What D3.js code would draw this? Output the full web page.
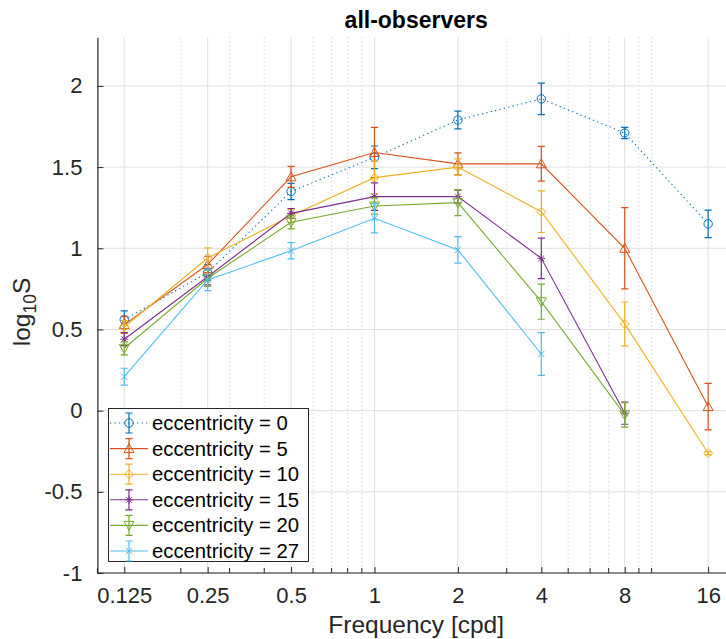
<!DOCTYPE html>
<html>
<head>
<meta charset="utf-8">
<script src="https://cdn.jsdelivr.net/npm/d3@7"></script>
<style>
  body { margin: 0; background: #fff; }
  svg { display: block; font-family: "Liberation Sans", Arial, Helvetica, sans-serif; }
</style>
</head>
<body>
<div id="chart"></div>
<script>
const WIDTH = 726;
const HEIGHT = 639;

// data
const freqs = [0.125, 0.25, 0.5, 1, 2, 4, 8, 16];
const eccentricities = [0, 5, 10, 15, 20, 27];
const ecc0  = [0.56, 0.85, 1.35, 1.56, 1.79, 1.92, 1.71, 1.15];
const ecc0Err  = [0.055, 0.05, 0.05, 0.07, 0.055, 0.097, 0.035, 0.085];
const ecc5  = [0.53, 0.90, 1.44, 1.59, 1.52, 1.52, 1.00, 0.025];
const ecc5Err  = [0.05, 0.05, 0.065, 0.155, 0.068, 0.107, 0.25, 0.143];
const ecc10 = [0.515, 0.94, 1.2, 1.435, 1.50, 1.225, 0.534, -0.262];
const ecc10Err = [0.04, 0.062, 0.04, 0.10, 0.05, 0.128, 0.135, 0.01];
const ecc15 = [0.44, 0.825, 1.215, 1.318, 1.318, 0.938, -0.016, null];
const ecc15Err = [0.04, 0.05, 0.03, 0.085, 0.04, 0.125, 0.068, null];
const ecc20 = [0.384, 0.815, 1.16, 1.26, 1.281, 0.671, -0.026, null];
const ecc20Err = [0.04, 0.05, 0.04, 0.05, 0.08, 0.108, 0.075, null];
const ecc27 = [0.209, 0.805, 0.985, 1.185, 0.99, 0.349, null, null];
const ecc27Err = [0.052, 0.066, 0.05, 0.09, 0.082, 0.132, null, null];

const xTicks = [0.125, 0.25, 0.5, 1, 2, 4, 8, 16];
const xTickLabels = ["0.125", "0.25", "0.5", "1", "2", "4", "8", "16"];
const xMinor = [0.1, 0.2, 0.3, 0.4, 0.6, 0.7, 0.8, 0.9, 3, 5, 6, 7, 9, 10];
const yTicks = [-1, -0.5, 0, 0.5, 1, 1.5, 2];
const yTickLabels = ["-1", "-0.5", "0", "0.5", "1", "1.5", "2"];

var colors = ["#0072BD", "#D95319", "#EDB120", "#7E2F8E", "#77AC30", "#4DBEEE"];
var markers = ["circle", "triangle", "diamond", "star", "triangledown", "cross"];

var series = [
  { ecc: eccentricities[0], vals: ecc0, errs: ecc0Err, dotted: true },
  { ecc: eccentricities[1], vals: ecc5, errs: ecc5Err },
  { ecc: eccentricities[2], vals: ecc10, errs: ecc10Err },
  { ecc: eccentricities[3], vals: ecc15, errs: ecc15Err },
  { ecc: eccentricities[4], vals: ecc20, errs: ecc20Err },
  { ecc: eccentricities[5], vals: ecc27, errs: ecc27Err }
];

var axLeft = 97.4, axRight = 735, axTop = 37.2, axBottom = 573;
var x = d3.scaleLog().base(2).domain([0.1, 20]).range([axLeft, axRight]);
var y = d3.scaleLinear().domain([-1, 2.3]).range([axBottom, axTop]);

var axisColor = "#262626";

var svg = d3.select("#chart").append("svg")
    .attr("width", WIDTH)
    .attr("height", HEIGHT);

// grid
var grid = svg.append("g").attr("class", "grid");
grid.selectAll(".minor")
    .data(xMinor.filter(d => d > 0.1))
    .enter().append("line")
    .attr("x1", d => x(d)).attr("x2", d => x(d))
    .attr("y1", axTop).attr("y2", axBottom)
    .attr("stroke", "#c4c4c4")
    .attr("stroke-dasharray", "1,3");
grid.selectAll(".vmajor")
    .data(xTicks)
    .enter().append("line")
    .attr("x1", d => x(d)).attr("x2", d => x(d))
    .attr("y1", axTop).attr("y2", axBottom)
    .attr("stroke", "#dfdfdf");
grid.selectAll(".hmajor")
    .data(yTicks)
    .enter().append("line")
    .attr("x1", axLeft).attr("x2", WIDTH)
    .attr("y1", d => y(d)).attr("y2", d => y(d))
    .attr("stroke", "#dfdfdf");

// axes (matlab style: ticks inside)
var xAxis = d3.axisBottom(x).tickValues(xTicks)
    .tickFormat((d, i) => xTickLabels[i])
    .tickSizeInner(-6).tickSizeOuter(0).tickPadding(14);
var yAxis = d3.axisLeft(y).tickValues(yTicks)
    .tickFormat((d, i) => yTickLabels[i])
    .tickSizeInner(-6).tickSizeOuter(0).tickPadding(15);

var gx = svg.append("g")
    .attr("transform", "translate(0," + axBottom + ")")
    .call(xAxis);
gx.append("g").selectAll("line")
    .data(xMinor)
    .enter().append("line")
    .attr("x1", d => x(d)).attr("x2", d => x(d))
    .attr("y1", 0).attr("y2", -5)
    .attr("stroke", axisColor);

var gy = svg.append("g")
    .attr("transform", "translate(" + axLeft + ",0)")
    .call(yAxis);

[gx, gy].forEach(g => {
  g.select(".domain").attr("stroke", axisColor).attr("stroke-width", 1.2);
  g.selectAll(".tick line").attr("stroke", axisColor);
  g.selectAll(".tick text")
      .attr("fill", axisColor)
      .attr("font-size", 22)
      .attr("font-family", "Liberation Sans, Arial, sans-serif");
});
gx.select(".domain").attr("d", "M" + axLeft + ",0H" + WIDTH);

// labels
svg.append("text")
    .attr("x", (axLeft + axRight) / 2)
    .attr("y", 28)
    .attr("text-anchor", "middle")
    .attr("font-weight", "bold")
    .attr("font-size", 23)
    .attr("fill", "#000")
    .text("all-observers");

svg.append("text")
    .attr("x", (axLeft + axRight) / 2)
    .attr("y", 633)
    .attr("text-anchor", "middle")
    .attr("font-size", 24.5)
    .attr("fill", axisColor)
    .text("Frequency [cpd]");

var ylab = svg.append("text")
    .attr("transform", "translate(30,312) rotate(-90)")
    .attr("text-anchor", "middle")
    .attr("font-size", 24.5)
    .attr("fill", axisColor);
ylab.append("tspan").text("log");
ylab.append("tspan").attr("font-size", 17.5).attr("dy", 6).text("10");
ylab.append("tspan").attr("dy", -6).text("S");

// markers
function drawMarker(g, type, cx, cy, color) {
  var s = 4.5;
  if (type === "circle") {
    g.append("circle").attr("cx", cx).attr("cy", cy).attr("r", 4.2)
      .attr("fill", "none").attr("stroke", color);
  } else if (type === "triangle") {
    g.append("path")
      .attr("d", "M" + cx + "," + (cy - s - 0.5) + "L" + (cx + s + 0.5) + "," + (cy + s - 0.5) + "L" + (cx - s - 0.5) + "," + (cy + s - 0.5) + "Z")
      .attr("fill", "none").attr("stroke", color);
  } else if (type === "triangledown") {
    g.append("path")
      .attr("d", "M" + cx + "," + (cy + s + 0.5) + "L" + (cx + s + 0.5) + "," + (cy - s + 0.5) + "L" + (cx - s - 0.5) + "," + (cy - s + 0.5) + "Z")
      .attr("fill", "none").attr("stroke", color);
  } else if (type === "diamond") {
    g.append("path")
      .attr("d", "M" + cx + "," + (cy - s) + "L" + (cx + s) + "," + cy + "L" + cx + "," + (cy + s) + "L" + (cx - s) + "," + cy + "Z")
      .attr("fill", "none").attr("stroke", color);
  } else if (type === "star") {
    var r = 4, q = 2.9;
    g.append("path")
      .attr("d", "M" + (cx - r) + "," + cy + "H" + (cx + r) + "M" + cx + "," + (cy - r) + "V" + (cy + r) +
        "M" + (cx - q) + "," + (cy - q) + "L" + (cx + q) + "," + (cy + q) +
        "M" + (cx - q) + "," + (cy + q) + "L" + (cx + q) + "," + (cy - q))
      .attr("stroke", color).attr("fill", "none");
  } else if (type === "cross") {
    var c = 3.2;
    g.append("path")
      .attr("d", "M" + (cx - c) + "," + (cy - c) + "L" + (cx + c) + "," + (cy + c) +
        "M" + (cx - c) + "," + (cy + c) + "L" + (cx + c) + "," + (cy - c))
      .attr("stroke", color).attr("fill", "none");
  }
}

function drawErrBar(g, cx, y0, y1, color) {
  g.append("path")
    .attr("d", "M" + cx + "," + y0 + "V" + y1 +
      "M" + (cx - 3.6) + "," + y0 + "H" + (cx + 3.6) +
      "M" + (cx - 3.6) + "," + y1 + "H" + (cx + 3.6))
    .attr("stroke", color).attr("stroke-width", 1.2).attr("fill", "none");
}

var line = d3.line()
    .x(d => x(d.f))
    .y(d => y(d.v));

var plot = svg.append("g").attr("class", "plot");

series.forEach((s, i) => {
  var pts = freqs.map((f, j) => ({ f: f, v: s.vals[j], e: s.errs[j] }))
      .filter(d => d.v !== null);
  var g = plot.append("g");
  g.append("path")
      .datum(pts)
      .attr("d", line)
      .attr("fill", "none")
      .attr("stroke", colors[i])
      .attr("stroke-width", 1.1)
      .attr("stroke-dasharray", s.dotted ? "1.3,3.2" : null);
  pts.forEach(d => {
    drawErrBar(g, x(d.f), y(d.v + d.e), y(d.v - d.e), colors[i]);
    drawMarker(g, markers[i], x(d.f), y(d.v), colors[i]);
  });
});

// legend
var lg = svg.append("g").attr("class", "legend");
lg.append("rect")
    .attr("x", 108.5).attr("y", 408.5)
    .attr("width", 200).attr("height", 153)
    .attr("fill", "#fff")
    .attr("stroke", axisColor);

series.forEach((s, i) => {
  var cy = 423 + i * 25.6;
  var row = lg.append("g");
  row.append("line")
      .attr("x1", 110).attr("x2", 148)
      .attr("y1", cy).attr("y2", cy)
      .attr("stroke", colors[i])
      .attr("stroke-width", 1.1)
      .attr("stroke-dasharray", s.dotted ? "1.3,3.2" : null);
  drawErrBar(row, 129, cy - 10, cy + 10, colors[i]);
  drawMarker(row, markers[i], 129, cy, colors[i]);
  row.append("text")
      .attr("x", 152)
      .attr("y", cy + 7)
      .attr("font-size", 20.3)
      .attr("fill", "#000")
      .text("eccentricity = " + s.ecc);
});
</script>
</body>
</html>
